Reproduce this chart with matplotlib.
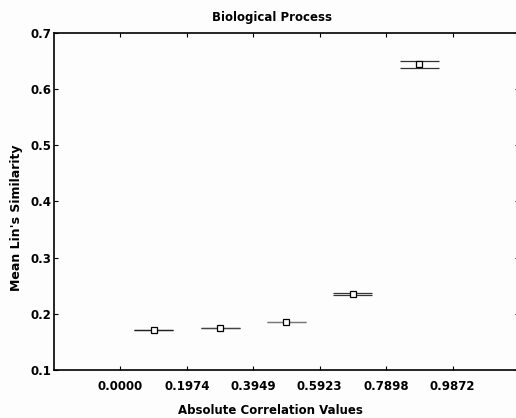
import matplotlib
matplotlib.use("Agg")
import matplotlib.pyplot as plt
import numpy as np

# data
bin_centers = [0.0987, 0.2961, 0.4936, 0.6910, 0.8885]
bin_halfwidth = [0.058, 0.058, 0.058, 0.058, 0.058]
mean_sim = [0.172, 0.175, 0.185, 0.2355, 0.6445]
err_low = [0.1719, 0.1749, 0.1849, 0.2335, 0.637]
err_high = [0.1721, 0.1751, 0.1851, 0.237, 0.651]
line_colors = ["#222222", "#444444", "#777777", "#333333", "#333333"]
xtick_vals = [0.0000, 0.1974, 0.3949, 0.5923, 0.7898, 0.9872]
xtick_labels = ["0.0000", "0.1974", "0.3949", "0.5923", "0.7898", "0.9872"]
ytick_vals = [0.1, 0.2, 0.3, 0.4, 0.5, 0.6, 0.7]

W, H = 516, 418
fig = plt.figure(figsize=(W / 100, H / 100), dpi=100)
fig.patch.set_facecolor("#fdfdfd")
ax = fig.add_axes([54 / W, 1 - 370 / H, (519 - 54) / W, (370 - 33) / H])
ax.set_facecolor("#fdfdfd")

for c, hw, lo, hi, m, col in zip(bin_centers, bin_halfwidth, err_low, err_high, mean_sim, line_colors):
    ax.hlines([lo, hi], c - hw, c + hw, colors=col, linewidth=0.9, zorder=2)
    ax.plot([c], [m], marker="s", markersize=5, markerfacecolor="white",
            markeredgecolor="black", markeredgewidth=0.9, linestyle="none", zorder=3)

ax.set_xlim(-0.1974, 1.1846)
ax.set_ylim(0.1, 0.7)
ax.set_xticks(xtick_vals)
ax.set_xticklabels(xtick_labels)
ax.set_yticks(ytick_vals)
ax.set_yticklabels([f"{v:.1f}" for v in ytick_vals])
ax.tick_params(direction="in", length=3, width=0.8, top=True, right=True,
               labelsize=8.5)
ax.tick_params(axis="x", pad=7)
ax.tick_params(axis="y", pad=2)
for lab in ax.get_xticklabels() + ax.get_yticklabels():
    lab.set_fontweight("bold")
for sp in ax.spines.values():
    sp.set_linewidth(1.2)

fig.text(272 / W, 1 - 18 / H, "Biological Process", ha="center", va="center",
         fontsize=8.5, fontweight="bold")
fig.text(270 / W, 1 - 411 / H, "Absolute Correlation Values", ha="center",
         va="center", fontsize=8.5, fontweight="bold")
fig.text(17 / W, 1 - 218 / H, "Mean Lin's Similarity", ha="center",
         va="center", rotation=90, fontsize=9, fontweight="bold")

fig.savefig("out.png", dpi=100, facecolor=fig.get_facecolor())
